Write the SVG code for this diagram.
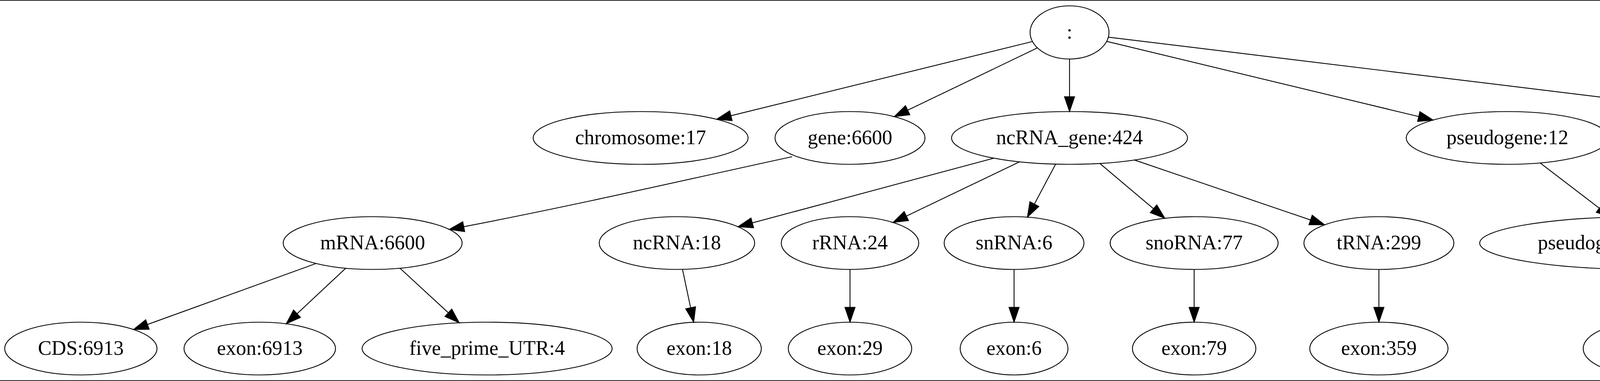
<svg xmlns="http://www.w3.org/2000/svg" width="5520" height="975" viewBox="0 0 5520 975">
<style>
.n ellipse{fill:none;stroke:#000;stroke-width:2.2}
.n text{font-family:"Liberation Serif","Times New Roman",serif;font-size:52px;text-anchor:middle;fill:#000}
.e path{fill:none;stroke:#000;stroke-width:2.2;marker-end:url(#arr)}
</style>
<defs>
<marker id="arr" markerUnits="userSpaceOnUse" viewBox="-2 -16 44 32" markerWidth="44" markerHeight="32" refX="0" refY="0" orient="auto">
<path d="M0,-13 L38,0 L0,13 Z" fill="#000" stroke="#000" stroke-width="2"/>
</marker>
</defs>
<rect x="0" y="0" width="5520" height="975" fill="#fff"/>
<rect x="0" y="0" width="5520" height="2" fill="#222"/>
<rect x="0" y="973" width="5520" height="2" fill="#222"/>
<g id="edges" class="e">
<path d="M2643.1,106.3 L1871.2,296.1"/>
<path d="M2655.8,122.5 L2323.7,282.0"/>
<path d="M2738,151 L2738,247.5"/>
<path d="M2833.1,105.9 L3631.9,298.3"/>
<path d="M2837.4,95.1 L4552.9,303.8"/>
<path d="M2028,401 C1800,450 1500,520 1187.2,580.1"/>
<path d="M809.3,674.3 L377.5,830.4"/>
<path d="M885.1,686.4 L760.5,802.8"/>
<path d="M1023.8,686.3 L1147.7,800.4"/>
<path d="M2544.4,404.8 L1925.9,570.4"/>
<path d="M2610.2,414.1 L2320.3,552.9"/>
<path d="M2702.4,420.0 L2648.0,522.2"/>
<path d="M2815.4,418.2 L2953.0,534.2"/>
<path d="M2903.9,409.4 L3355.0,562.9"/>
<path d="M1747.2,689.3 L1768.0,787.6"/>
<path d="M2176,689.5 L2176,786.5"/>
<path d="M2596,689.5 L2596,786.5"/>
<path d="M3057,689.5 L3057,786.5"/>
<path d="M3530,689.5 L3530,786.5"/>
<path d="M3942.6,416.9 L4094.3,532.8"/>
<path d="M4993.5,420.3 L5048.4,521.4"/>
<path d="M4211,689.5 L4211,786.5"/>
<path d="M5103,689.5 L5103,786.5"/>
</g>
<g id="root" class="n"><ellipse cx="2738" cy="83" rx="101" ry="68"/><text x="2738" y="99">:</text></g>
<g id="chromosome" class="n"><ellipse cx="1640" cy="353" rx="275" ry="67.5"/><text x="1640" y="369">chromosome:17</text></g>
<g id="gene" class="n"><ellipse cx="2176" cy="353" rx="192" ry="67.5"/><text x="2176" y="369">gene:6600</text></g>
<g id="ncRNA_gene" class="n"><ellipse cx="2738" cy="353" rx="302" ry="67.5"/><text x="2738" y="369">ncRNA_gene:424</text></g>
<g id="pseudogene" class="n"><ellipse cx="3859" cy="353" rx="259" ry="67.5"/><text x="3859" y="369">pseudogene:12</text></g>
<g id="transposable_element_gene" class="n"><ellipse cx="4957" cy="353" rx="488" ry="67.5"/><text x="4957" y="369">transposable_element_gene:91</text></g>
<g id="mRNA" class="n"><ellipse cx="954" cy="622" rx="229" ry="67.5"/><text x="954" y="638">mRNA:6600</text></g>
<g id="ncRNA" class="n"><ellipse cx="1733" cy="622" rx="199" ry="67.5"/><text x="1733" y="638">ncRNA:18</text></g>
<g id="rRNA" class="n"><ellipse cx="2176" cy="622" rx="176" ry="67.5"/><text x="2176" y="638">rRNA:24</text></g>
<g id="snRNA" class="n"><ellipse cx="2596" cy="622" rx="179" ry="67.5"/><text x="2596" y="638">snRNA:6</text></g>
<g id="snoRNA" class="n"><ellipse cx="3057" cy="622" rx="215" ry="67.5"/><text x="3057" y="638">snoRNA:77</text></g>
<g id="tRNA" class="n"><ellipse cx="3530" cy="622" rx="192" ry="67.5"/><text x="3530" y="638">tRNA:299</text></g>
<g id="pseudogenic_transcript" class="n"><ellipse cx="4211" cy="622" rx="423" ry="67.5"/><text x="4211" y="638">pseudogenic_transcript:12</text></g>
<g id="transposable_element" class="n"><ellipse cx="5103" cy="622" rx="402" ry="67.5"/><text x="5103" y="638">transposable_element:91</text></g>
<g id="CDS" class="n"><ellipse cx="207" cy="892" rx="195" ry="67.5"/><text x="207" y="908">CDS:6913</text></g>
<g id="exon_mRNA" class="n"><ellipse cx="665" cy="892" rx="194" ry="67.5"/><text x="665" y="908">exon:6913</text></g>
<g id="five_prime_UTR" class="n"><ellipse cx="1247" cy="892" rx="320" ry="67.5"/><text x="1247" y="908">five_prime_UTR:4</text></g>
<g id="exon_ncRNA" class="n"><ellipse cx="1790" cy="892" rx="159" ry="67.5"/><text x="1790" y="908">exon:18</text></g>
<g id="exon_rRNA" class="n"><ellipse cx="2176" cy="892" rx="158" ry="67.5"/><text x="2176" y="908">exon:29</text></g>
<g id="exon_snRNA" class="n"><ellipse cx="2596" cy="892" rx="138" ry="67.5"/><text x="2596" y="908">exon:6</text></g>
<g id="exon_snoRNA" class="n"><ellipse cx="3057" cy="892" rx="158" ry="67.5"/><text x="3057" y="908">exon:79</text></g>
<g id="exon_tRNA" class="n"><ellipse cx="3530" cy="892" rx="177" ry="67.5"/><text x="3530" y="908">exon:359</text></g>
<g id="exon_pseudo" class="n"><ellipse cx="4211" cy="892" rx="158" ry="67.5"/><text x="4211" y="908">exon:12</text></g>
<g id="exon_te" class="n"><ellipse cx="5103" cy="892" rx="159" ry="67.5"/><text x="5103" y="908">exon:91</text></g>
</svg>
